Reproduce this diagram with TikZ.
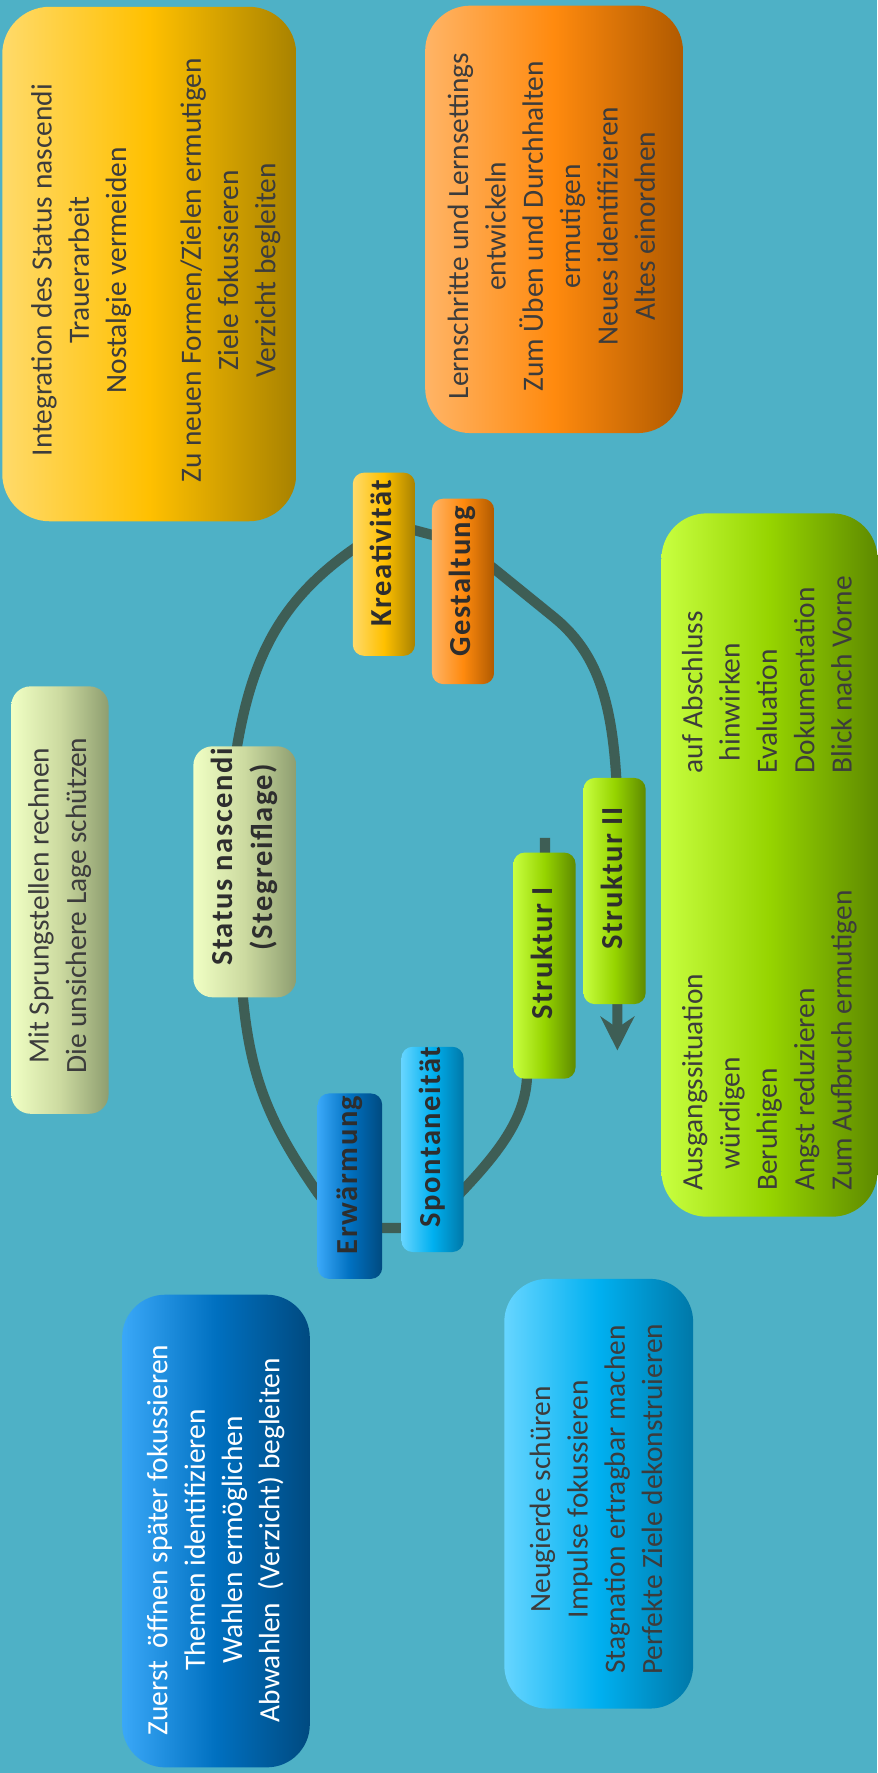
\documentclass[tikz,border=0pt]{standalone}
\usepackage{fontspec}
\usepackage{graphicx}
\setmainfont{Carlito}
\newfontfamily\lblfont{Carlito}[LetterSpace=5]
\usetikzlibrary{arrows.meta}
\pgfdeclarelayer{bg}
\pgfsetlayers{bg,main}
\definecolor{bgc}{HTML}{4EB1C6}
\definecolor{linec}{HTML}{3E5E55}
\definecolor{txt}{HTML}{3C3C3C}
\definecolor{lbltxt}{HTML}{2E2E2E}
\definecolor{yA}{HTML}{FFDA6A}\definecolor{yB}{HTML}{FFC000}\definecolor{yC}{HTML}{A88200}
\definecolor{oA}{HTML}{FFB466}\definecolor{oB}{HTML}{FF8A0E}\definecolor{oC}{HTML}{B05A00}
\definecolor{gA}{HTML}{C8FF40}\definecolor{gB}{HTML}{96D400}\definecolor{gC}{HTML}{5E8A00}
\definecolor{pA}{HTML}{F0FFC4}\definecolor{pB}{HTML}{CCDAA0}\definecolor{pC}{HTML}{8E9E70}
\definecolor{lA}{HTML}{66D5FF}\definecolor{lB}{HTML}{00B0F0}\definecolor{lC}{HTML}{0078A8}
\definecolor{dA}{HTML}{3AA8F8}\definecolor{dB}{HTML}{0070C0}\definecolor{dC}{HTML}{004A80}
% rotated centred text block; optional shift (positive = up on page by half)
\newcommand{\vtext}[2][0pt]{\rotatebox{90}{\hspace*{#1}\begin{tabular}{@{}c@{}}#2\end{tabular}}}
\tikzset{
  yellowgrad/.style={left color=yA, right color=yC, middle color=yB},
  orangegrad/.style={left color=oA, right color=oC, middle color=oB},
  greengrad/.style={left color=gA, right color=gC, middle color=gB},
  palegrad/.style={left color=pA, right color=pC, middle color=pB},
  lightbluegrad/.style={left color=lA, right color=lC, middle color=lB},
  darkbluegrad/.style={left color=dA, right color=dC, middle color=dB},
  bigbox/.style={rounded corners=40pt, inner sep=0pt, text=txt,
    font=\fontsize{26}{33}\selectfont},
  lblbox/.style={rounded corners=10pt, inner sep=0pt, minimum width=55pt, text=lbltxt,
    font=\lblfont\bfseries\fontsize{27}{35}\selectfont},
  cycleline/.style={line width=9pt, draw=linec, line join=round},
}
\begin{document}
\begin{tikzpicture}[x=1pt,y=-1pt]
\useasboundingbox (0,0) rectangle (776,1568);

% ---- big text boxes ----
\node[bigbox, yellowgrad, rounded corners=42pt, minimum width=260pt, minimum height=455pt] (yel) at (132,233.5)
  {\rotatebox{90}{\hspace*{-11pt}\raisebox{-6pt}[\height][\depth]{\begin{tabular}{@{}c@{}}Integration des Status nascendi\\Trauerarbeit\\Nostalgie vermeiden\\ \\Zu neuen Formen/Zielen ermutigen\\Ziele fokussieren\\Verzicht begleiten\end{tabular}}}};
\node[bigbox, orangegrad, minimum width=228pt, minimum height=378pt] (ora) at (490,194)
  {\vtext[-12pt]{Lernschritte und Lernsettings\\entwickeln\\Zum Üben und Durchhalten\\ermutigen\\Neues identifizieren\\Altes einordnen}};
\node[bigbox, greengrad, minimum width=191pt, minimum height=622pt] (gre) at (680.5,765)
  {\rotatebox{90}{\begin{tabular}{@{}l@{}}
   \makebox[576pt][l]{\makebox[369pt][l]{Ausgangssituation}auf Abschluss}\\
   \makebox[576pt][l]{\makebox[369pt][l]{\hspace*{19pt}würdigen}\hspace*{11pt}hinwirken}\\
   \makebox[576pt][l]{\makebox[369pt][l]{Beruhigen}Evaluation}\\
   \makebox[576pt][l]{\makebox[369pt][l]{Angst reduzieren}Dokumentation}\\
   \makebox[576pt][l]{\makebox[369pt][l]{Zum Aufbruch ermutigen}Blick nach Vorne}
  \end{tabular}}};
\node[bigbox, palegrad, rounded corners=17pt, minimum width=86pt, minimum height=378pt] (spr) at (53,796)
  {\vtext[-10pt]{Mit Sprungstellen rechnen\\Die unsichere Lage schützen}};
\node[bigbox, darkbluegrad, text=white, rounded corners=38pt, minimum width=166pt, minimum height=418pt] (dbl) at (191,1354)
  {\vtext[-16pt]{Zuerst\hspace{0.2em} öffnen später fokussieren\\Themen identifizieren\\Wahlen ermöglichen\\Abwahlen\hspace{0.2em} (Verzicht) begleiten}};
\node[bigbox, lightbluegrad, rounded corners=38pt, minimum width=167pt, minimum height=380pt] (lbl) at (529.5,1321)
  {\vtext[-10pt]{Neugierde schüren\\Impulse fokussieren\\Stagnation ertragbar machen\\Perfekte Ziele dekonstruieren}};

% ---- cycle labels ----
\node[lblbox, yellowgrad, minimum height=162pt] (krea) at (339.5,499) {\vtext[20pt]{Kreativität}};
\node[lblbox, orangegrad, minimum height=164pt] (gest) at (409.5,523) {\vtext[18pt]{Gestaltung}};
\node[lblbox, palegrad, rounded corners=17pt, minimum width=91pt, minimum height=222pt] (stat) at (216.5,771)
  {\vtext[26pt]{Status nascendi\\(Stegreiflage)}};
\node[lblbox, greengrad, minimum height=200pt] (strII) at (543.5,788) {\vtext[22pt]{Struktur II}};
\node[lblbox, greengrad, minimum height=200pt] (strI) at (481.5,854) {\vtext[22pt]{Struktur I}};
\node[lblbox, lightbluegrad, minimum height=179pt] (spont) at (382.5,1016.5) {\vtext[22pt]{Spontaneität}};
\node[lblbox, darkbluegrad, minimum width=57pt, minimum height=164pt] (erw) at (309.5,1049) {\vtext[20pt]{Erwärmung}};

\coordinate (start) at (482,741);
\coordinate (tip) at (546,929);

\begin{pgfonlayer}{bg}
\fill[bgc] (0,0) rectangle (776,1568);
\draw[cycleline, -{Stealth[length=30pt,width=30pt,inset=10pt]}]
  (start) -- (strI.center)
  .. controls (481.5,900) and (467,925) .. (466,954)
  .. controls (464,990) and (440,1020) .. (410,1052)
  .. controls (395,1068) and (375,1086) .. (355,1086)
  -- (339,1086)
  .. controls (310,1086) and (292,1070) .. (281,1055)
  .. controls (240,996) and (222,956) .. (215,884)
  .. controls (211,800) and (205,700) .. (210,658)
  .. controls (223.5,581) and (248,531) .. (312,486)
  .. controls (330,473) and (352,467) .. (367,469)
  -- (382,473)
  .. controls (400,478) and (420,490) .. (437,503)
  -- (490,546)
  .. controls (528,577) and (541,620) .. (545,688)
  -- (546,888)
  -- (tip);
\end{pgfonlayer}
\end{tikzpicture}
\end{document}
